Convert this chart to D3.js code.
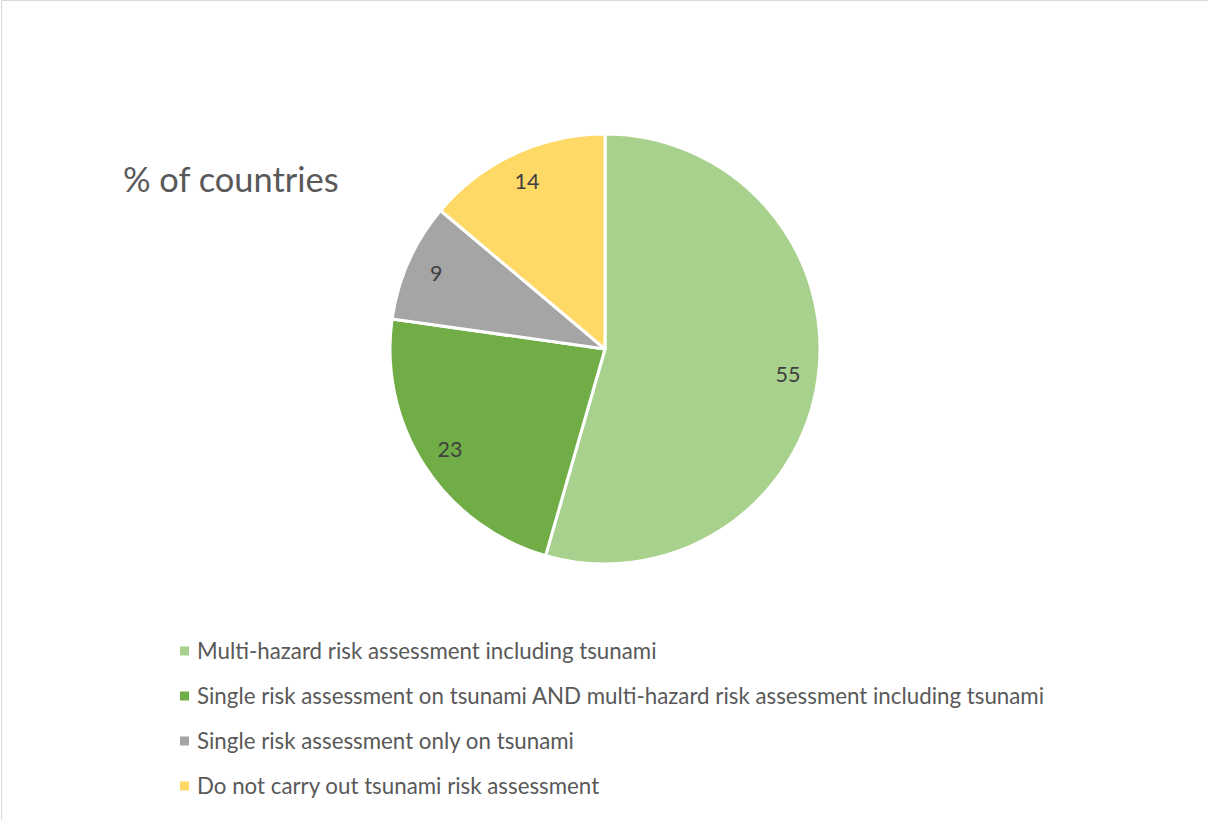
<!DOCTYPE html>
<html>
<head>
<meta charset="utf-8">
<script src="https://cdn.jsdelivr.net/npm/d3@7"></script>
<style>
  html, body { margin: 0; padding: 0; background: #fff; }
  svg { display: block; }
  text { font-family: Lato, "Open Sans", sans-serif; }
</style>
</head>
<body>
<svg id="chart" width="1208" height="820"></svg>
<script>
const categories = [
  "Multi-hazard risk assessment including tsunami",
  "Single risk assessment on tsunami AND multi-hazard risk assessment including tsunami",
  "Single risk assessment only on tsunami",
  "Do not carry out tsunami risk assessment"
];
const values = [55, 23, 9, 14];
const colors = ["#A9D18E", "#70AD47", "#A5A5A5", "#FFD966"];
const titleText = "% of countries";

const svg = d3.select("#chart");

// chart border (top/left visible)
svg.append("path")
  .attr("d", "M1.5,820 L1.5,0.5 L1208,0.5")
  .attr("fill", "none")
  .attr("stroke", "#D9D9D9")
  .attr("stroke-width", 1);

// title
svg.append("text")
  .attr("x", 123)
  .attr("y", 192)
  .attr("fill", "#595959")
  .style("font-size", "34.4px")
  .text(titleText);

const cx = 605, cy = 349, R = 215;
const pie = d3.pie().sort(null).value(d => d)(values);
const arc = d3.arc().innerRadius(0).outerRadius(R);
const labelArc = d3.arc().innerRadius(R * 0.86).outerRadius(R * 0.86);

const g = svg.append("g").attr("transform", `translate(${cx},${cy})`);
g.selectAll("path.slice")
  .data(pie)
  .join("path")
  .attr("class", "slice")
  .attr("d", arc)
  .attr("fill", (d, i) => colors[i])
  .attr("stroke", "#fff")
  .attr("stroke-width", 3)
  .attr("stroke-linejoin", "round");

g.selectAll("text.lbl")
  .data(pie)
  .join("text")
  .attr("class", "lbl")
  .attr("transform", d => `translate(${labelArc.centroid(d)})`)
  .attr("text-anchor", "middle")
  .attr("dy", "0.35em")
  .attr("fill", "#404040")
  .style("font-size", "21.5px")
  .text(d => d.data);

// legend
const legendY = d3.scalePoint().domain(d3.range(categories.length)).range([651, 786]);
const lg = svg.append("g");
const items = lg.selectAll("g.item")
  .data(categories)
  .join("g")
  .attr("class", "item")
  .attr("transform", (d, i) => `translate(180,${legendY(i)})`);
items.append("rect")
  .attr("x", 0).attr("y", -4.5)
  .attr("width", 9).attr("height", 9)
  .attr("fill", (d, i) => colors[i]);
items.append("text")
  .attr("x", 17)
  .attr("dy", "0.35em")
  .attr("fill", "#595959")
  .style("font-size", "22.3px")
  .text(d => d);
</script>
</body>
</html>
